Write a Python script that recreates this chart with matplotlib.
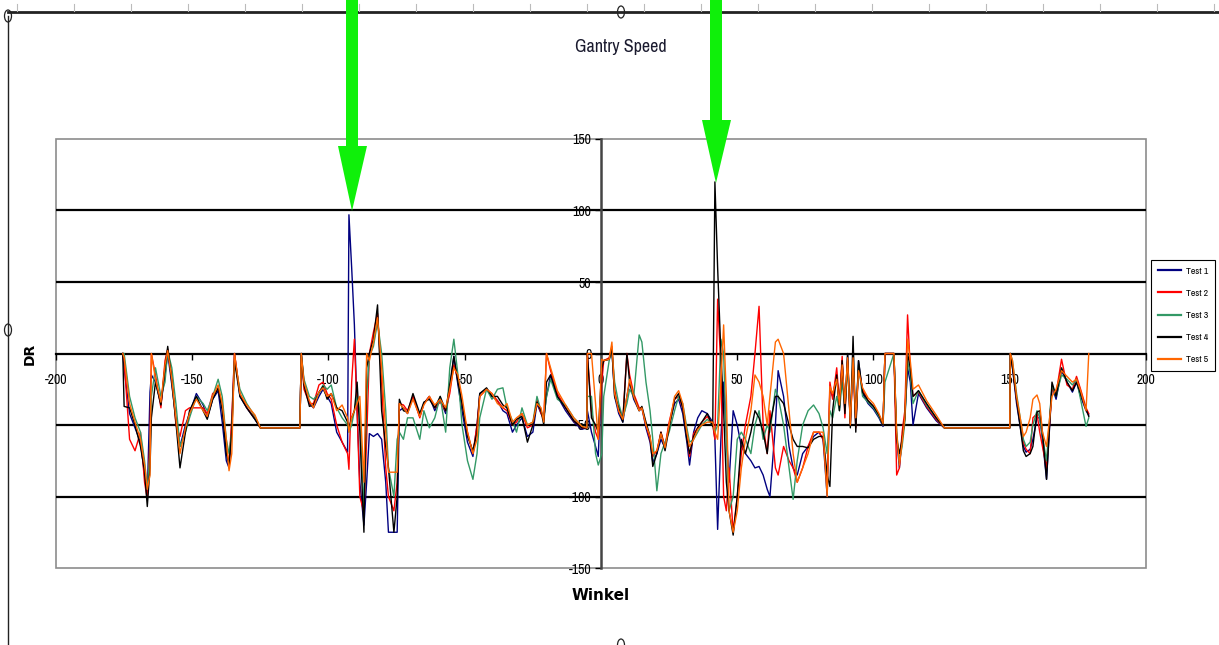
import matplotlib
matplotlib.use("Agg")
import matplotlib.pyplot as plt
from matplotlib import font_manager
from matplotlib.font_manager import FontProperties
from matplotlib.patches import Polygon, Rectangle, Ellipse
from matplotlib.lines import Line2D

# ---- data: gantry angle (Winkel) and DR for five test runs ----
angle = [
    -175.5, -175, -173, -171, -169, -167.5, -166.5, -165.5, -165, -163.5,
    -161.5, -160, -159, -157.5, -156, -154.5, -152.5, -151, -148.5, -146,
    -144.5, -142.5, -140.5, -139, -137.5, -136.5, -135.5, -134.5, -132.5, -130,
    -127, -125, -110.5, -110, -109, -107, -105.5, -103.5, -102, -100.5,
    -99, -97, -95, -93, -92.5, -91.5, -90.5, -89.5, -88.5, -87,
    -86, -85, -83.5, -82, -80.5, -79, -78, -76, -74.8, -74,
    -72.5, -71, -69, -66.5, -65, -63, -61, -59, -57, -55.5,
    -54, -52.5, -51, -49, -47, -45.5, -44.5, -42, -40, -38,
    -36, -34.5, -32.5, -31, -29, -27, -25, -23.5, -22, -21,
    -20, -18.5, -16, -13, -10, -7, -5.2, -5, -3.5, -2,
    -1, 0.3, 1, 3, 4, 5, 6.5, 8, 9.5, 10.5,
    12, 14, 15, 16.5, 18, 19, 20.5, 22, 23.5, 25,
    27, 28.5, 30, 31.5, 32.5, 34, 35.5, 37, 39, 41,
    41.8, 42.8, 44, 45, 46, 47, 48.5, 50, 51.5, 53,
    55, 56.5, 58, 59.5, 61, 62, 64, 65, 67, 69,
    70.5, 72, 74, 76, 78, 80, 81.5, 83, 84, 85,
    86.5, 87.5, 88.5, 89.5, 90.5, 91.5, 92.5, 93.5, 94.5, 96,
    98, 100, 102, 103.5, 104.2, 107.5, 108.5, 109.5, 110.5, 111.5,
    112.5, 113.5, 114.5, 116.5, 119.5, 123, 126, 150, 150.2, 151,
    152.5, 155, 156, 157.5, 158.5, 160, 161, 162, 163.5, 165.5,
    167, 169, 171, 173, 174.5, 176, 178, 179,
]

test1 = [
    0, -10, -42, -52, -62, -85, -100, -27, -15, -20,
    -35, -15, 0, -22, -45, -65, -50, -42, -28, -36,
    -45, -32, -26, -48, -75, -80, -50, 0, -30, -38,
    -46, -52, -52, 0, -20, -35, -38, -30, -25, -30,
    -35, -55, -62, -69, 97, 60, 20, -40, -90, -120,
    -90, -56, -58, -56, -60, -90, -125, -125, -125, -40,
    -38, -42, -30, -44, -35, -30, -40, -32, -42, -25,
    -2, -22, -40, -62, -72, -50, -28, -25, -30, -33,
    -40, -42, -55, -50, -45, -58, -55, -35, -42, -45,
    -30, -15, -30, -40, -48, -53, -52, -40, -55, -65,
    -72, -10, -5, -4, 3, -30, -42, -48, -30, -20,
    -32, -40, -38, -52, -62, -76, -70, -60, -66, -50,
    -35, -32, -42, -62, -78, -55, -45, -40, -42, -48,
    -60, -123, -60, -20, -55, -90, -40, -50, -65, -70,
    -75, -80, -79, -85, -95, -100, -50, -12, -30, -65,
    -80, -85, -70, -65, -58, -55, -60, -100, -25, -30,
    -15, -38, -5, -40, -1, -50, -5, -50, -5, -28,
    -35, -39, -45, -51, 0, 0, -60, -80, -60, -45,
    -10, -20, -50, -28, -38, -47, -52, -52, 0, -10,
    -35, -65, -69, -67, -60, -45, -45, -60, -88, -23,
    -32, -12, -20, -27, -20, -30, -40, -43,
]

test2 = [
    0, -5, -60, -68, -55, -90, -102, -60, 0, -15,
    -38, -5, 3, -15, -50, -58, -40, -38, -38, -38,
    -42, -28, -25, -35, -65, -78, -45, 0, -28, -38,
    -45, -52, -52, 0, -25, -35, -35, -22, -20, -28,
    -32, -50, -62, -70, -81, -20, 10, -40, -100, -111,
    -60, 0, 15, 28, -20, -80, -100, -110, -90, -35,
    -36, -40, -30, -45, -35, -30, -38, -34, -40, -28,
    -8, -18, -35, -55, -70, -50, -30, -25, -28, -33,
    -38, -40, -50, -48, -42, -52, -50, -32, -42, -46,
    0, -12, -28, -38, -47, -52, -52, 0, -40, -55,
    -60, -20, -5, -3, 5, -25, -40, -46, 0, -15,
    -28, -38, -38, -50, -60, -72, -68, -55, -65, -48,
    -32, -30, -38, -58, -72, -56, -52, -48, -44, -50,
    -60, 38, -10, -100, -110, -80, -125, -100, -70, -50,
    -30, 0, 33, -50, -70, -40, -80, -85, -65, -75,
    -80, -90, -80, -65, -55, -55, -60, -90, -20, -32,
    -10, -35, -2, -45, -5, -48, -8, -52, -10, -25,
    -33, -37, -43, -50, 0, 0, -85, -80, -55, -40,
    27, -10, -30, -27, -37, -46, -52, -52, 0, -8,
    -32, -62, -67, -70, -45, -42, -55, -65, -80, -25,
    -28, -4, -22, -25, -16, -25, -38, -42,
]

test3 = [
    0, 0, -30, -45, -55, -75, -95, -70, -30, -10,
    -30, -20, 2, -10, -35, -65, -55, -45, -30, -35,
    -40, -30, -18, -30, -60, -70, -55, -5, -25, -35,
    -44, -52, -52, 0, -18, -30, -32, -28, -22, -25,
    -22, -38, -45, -50, -55, -50, -40, -30, -40, -110,
    -30, -2, 5, 22, 0, -40, -80, -100, -60, -55,
    -60, -45, -45, -60, -40, -52, -45, -30, -55, -10,
    10, -15, -50, -75, -88, -70, -45, -25, -32, -25,
    -24, -38, -47, -55, -38, -50, -48, -30, -40, -45,
    -30, -18, -32, -36, -45, -51, -52, -30, -30, -70,
    -78, -70, -30, -5, 3, -20, -35, -45, -35, -25,
    -30, 13, 8, -20, -40, -60, -96, -70, -62, -55,
    -40, -30, -35, -52, -62, -60, -55, -50, -46, -50,
    -55, -50, 10, 0, -60, -110, -100, -60, -55, -60,
    -70, -50, -40, -60, -50, -55, -25, -30, -50, -80,
    -102, -75, -50, -40, -36, -42, -52, -70, -40, -45,
    -30, -40, -20, -38, -10, -45, -5, -48, -8, -30,
    -34, -38, -44, -50, -20, 0, -55, -75, -65, -48,
    -5, -15, -35, -26, -36, -45, -52, -52, 0, -5,
    -28, -60, -65, -62, -50, -40, -45, -58, -75, -22,
    -30, -15, -18, -22, -18, -32, -51, -45,
]

test4 = [
    0, -37, -38, -50, -65, -82, -107, -80, -45, -20,
    -36, -10, 5, -20, -48, -80, -55, -40, -30, -40,
    -46, -32, -24, -40, -70, -78, -55, -5, -30, -38,
    -46, -52, -52, 0, -22, -37, -36, -27, -23, -32,
    -28, -38, -40, -48, -52, -45, -40, -20, -55, -125,
    -10, 0, 10, 34, -40, -65, -80, -125, -100, -32,
    -40, -41, -28, -42, -34, -32, -38, -30, -40, -22,
    -2, -20, -35, -58, -68, -55, -28, -24, -30, -30,
    -36, -38, -50, -46, -44, -62, -50, -34, -40, -50,
    -20, -15, -30, -38, -47, -52, -52, 0, -45, -50,
    -55, -10, -5, -4, 3, -30, -38, -48, 0, -20,
    -30, -40, -37, -48, -58, -79, -70, -55, -68, -52,
    -32, -28, -38, -60, -70, -58, -52, -48, -42, -51,
    120, 60, 0, -40, -90, -110, -127, -100, -60, -70,
    -55, -40, -45, -55, -70, -50, -30, -30, -35, -50,
    -60, -65, -65, -66, -60, -58, -58, -85, -93, -40,
    -15, -40, -5, -42, 0, -52, 12, -55, -5, -27,
    -33, -37, -43, -50, 0, 0, -60, -70, -60, -45,
    0, -10, -30, -26, -35, -45, -52, -52, 0, -10,
    -32, -68, -72, -70, -65, -41, -40, -55, -88, -20,
    -30, -10, -20, -26, -20, -28, -39, -44,
]

test5 = [
    0, -3, -35, -48, -60, -78, -95, -85, 0, -18,
    -34, -8, 2, -18, -45, -70, -52, -42, -32, -40,
    -44, -30, -22, -35, -60, -82, -70, 0, -28, -36,
    -43, -52, -52, 0, -20, -33, -38, -27, -24, -30,
    -28, -40, -36, -45, -55, -45, -40, -35, -30, -90,
    0, -5, 8, 25, -10, -55, -83, -83, -83, -35,
    -38, -42, -32, -44, -36, -30, -36, -32, -38, -25,
    -10, -15, -30, -55, -70, -60, -30, -25, -28, -35,
    -38, -35, -48, -45, -42, -50, -48, -35, -38, -48,
    0, -10, -26, -36, -45, -51, -52, 0, 0, -35,
    -60, -4, -5, -4, 8, -28, -40, -46, -30, -18,
    -30, -40, -38, -50, -58, -70, -68, -56, -66, -50,
    -30, -26, -35, -55, -65, -60, -53, -50, -48, -48,
    -55, -60, -20, 20, -30, -110, -125, -110, -80, -60,
    -40, -15, -20, -30, -50, -30, 8, 10, 0, -40,
    -70, -90, -80, -70, -55, -55, -55, -100, -23, -28,
    -18, -36, -8, -35, -3, -50, -3, -45, -12, -24,
    -31, -35, -42, -49, 0, 0, -55, -78, -62, -45,
    10, -5, -25, -22, -33, -43, -52, -52, 0, -5,
    -30, -58, -55, -45, -32, -29, -35, -55, -65, -30,
    -25, -12, -16, -20, -18, -26, -40, 0,
]

series_names = ["Test 1", "Test 2", "Test 3", "Test 4", "Test 5"]
series_colors = ["#000080", "#FF0000", "#339966", "#000000", "#FF6600"]
x_ticks = [-200, -150, -100, -50, 0, 50, 100, 150, 200]
y_ticks = [-150, -100, -50, 0, 50, 100, 150]
grid_levels = [-100, -50, 50, 100]

# ---- fonts: prefer a narrow face for the chart texts ----
fonts = font_manager.fontManager.ttflist
narrow_names = sorted({f.name for f in fonts if "Narrow" in f.name or "Condensed" in f.name})
dejavu_cond = any(f.name == "DejaVu Sans" and f.stretch not in ("normal", 400, 500) for f in fonts)


def narrow_font(size, weight="normal"):
    if narrow_names:
        return FontProperties(family=narrow_names[0], size=size, weight=weight)
    if dejavu_cond:
        return FontProperties(family="DejaVu Sans", stretch="condensed", size=size, weight=weight)
    return FontProperties(family="Liberation Sans", size=size * 0.9, weight=weight)


W, H = 1219, 645
fig = plt.figure(figsize=(W / 100, H / 100), dpi=100)
fig.patch.set_facecolor("white")


def fx(px):
    return px / W


def fy(py):
    return 1 - py / H


ax = fig.add_axes([fx(56), fy(568), 1090 / W, 429 / H])
ax.set_xlim(-200, 200)
ax.set_ylim(-150, 150)

# horizontal grid lines
for g in grid_levels:
    ax.axhline(g, color="black", lw=1.6, zorder=1)

series = [test1, test2, test3, test4, test5]
for ys, name, col in zip(series, series_names, series_colors):
    ax.plot(angle, ys, color=col, lw=1.0, label=name, zorder=3)

# axes crossing at the origin
for side in ("top", "right"):
    ax.spines[side].set_visible(False)
ax.spines["left"].set_position(("data", 0))
ax.spines["bottom"].set_position(("data", 0))
ax.spines["left"].set_color("#444444")
ax.spines["left"].set_linewidth(1.8)
ax.spines["bottom"].set_color("black")
ax.spines["bottom"].set_linewidth(1.6)
ax.spines["left"].set_zorder(2)
ax.add_patch(Rectangle((0, 0), 1, 1, transform=ax.transAxes, fill=False,
                       ec="#8c8c8c", lw=1.2, clip_on=False, zorder=0))

tick_fp = narrow_font(10)
ax.set_xticks(x_ticks)
ax.set_yticks(y_ticks)
ax.set_xticklabels([str(v) for v in x_ticks], fontproperties=tick_fp)
ax.set_yticklabels([str(v) for v in y_ticks], fontproperties=tick_fp)
ax.tick_params(axis="x", direction="out", length=4, width=1, pad=10, color="black")
ax.tick_params(axis="y", direction="out", length=4, width=1, pad=3, color="black")

ax.set_xlabel("Winkel", fontsize=11, fontweight="bold", fontfamily="DejaVu Sans")
ax.xaxis.set_label_coords(0.5, -0.063)
ax.xaxis.label.set_va("center")
ax.set_ylabel("DR", fontsize=10, fontweight="bold", fontfamily="DejaVu Sans")
ax.yaxis.set_label_coords(-0.024, 0.5)
ax.yaxis.label.set_va("center")

fig.text(fx(621), fy(47), "Gantry Speed", ha="center", va="center",
         fontproperties=narrow_font(13, "bold"), color="#1a1a2e")

leg = fig.legend(loc="center", bbox_to_anchor=(fx(1183), fy(315.5)),
                 prop=narrow_font(7), frameon=True, fancybox=False,
                 edgecolor="black", framealpha=1, handlelength=2.4,
                 handletextpad=0.5, labelspacing=1.35, borderpad=0.7)
leg.get_frame().set_linewidth(0.8)
for h in leg.legend_handles:
    h.set_linewidth(1.6)

# chart-area frame with selection handles
fig.add_artist(Line2D([fx(8), 1], [fy(12), fy(12)], color="#222222", lw=2.0))
for px in range(17, W, 57):
    fig.add_artist(Line2D([fx(px), fx(px)], [fy(4), fy(11)], color="#bbbbbb", lw=0.8))
fig.add_artist(Line2D([fx(8), fx(8)], [fy(16), fy(645)], color="#222222", lw=1.0))
for hx, hy in [(621, 12), (8, 330), (621, 645), (8, 16)]:
    fig.add_artist(Ellipse((fx(hx), fy(hy)), 7 / W, 12 / H, transform=fig.transFigure,
                           fc="white", ec="#222222", lw=0.9))

# green arrows pointing at the two spikes
arrow_green = "#0ff00a"
for pts in ([(346, 0), (358, 0), (358, 146), (367, 146), (352, 211), (338, 146), (346, 146)],
            [(710, 0), (722, 0), (722, 120), (731, 120), (716, 183), (702, 120), (710, 120)]):
    fig.add_artist(Polygon([(fx(a), fy(b)) for a, b in pts], closed=True,
                           transform=fig.transFigure, fc=arrow_green, ec="none", zorder=10))

fig.savefig("out.png", dpi=100)
